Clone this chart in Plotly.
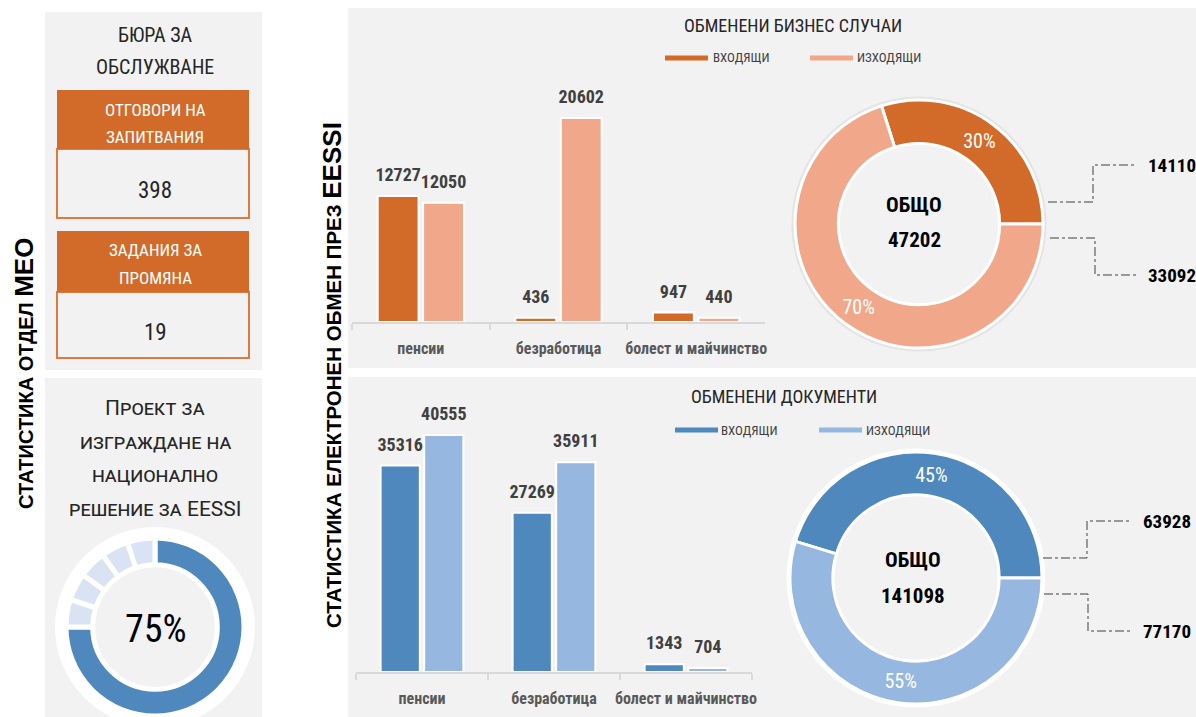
import plotly.graph_objects as go

W, H = 1196, 717
def X(x): return x / W
def Y(y): return 1 - y / H

# ---------------- data ----------------
categories = ["пенсии", "безработица", "болест и майчинство"]
series_names = ["ВХОДЯЩИ", "ИЗХОДЯЩИ"]
cases_in = [12727, 436, 947]
cases_out = [12050, 20602, 440]
docs_in = [35316, 27269, 1343]
docs_out = [40555, 35911, 704]
office_labels = [["ОТГОВОРИ НА", "ЗАПИТВАНИЯ"], ["ЗАДАНИЯ ЗА", "ПРОМЯНА"]]
office_values = [398, 19]
project_progress = [75, 5, 5, 5, 5, 5]
project_lines = ["Проект за", "изграждане на", "национално", "решение за EESSI"]

# ---------------- style ----------------
FONT = "Roboto Condensed, Roboto, sans-serif"
FONT_WIDE = "Liberation Sans, Arial, sans-serif"
ORANGE = "#D26B2A"
ORANGE_L = "#F0A78A"
BLUE = "#4E88BC"
BLUE_L = "#96B7DF"
SEG_L = "#DAE3F3"
PANEL = "#F2F2F2"
BOX_LINE = "#DE7B3C"
DARK = "#262626"
GRAY = "#595959"

fig = go.Figure()

# ---------------- bar charts ----------------
def bars(y, name, color, xa, ya, grp):
    fig.add_trace(go.Bar(x=categories, y=y, name=name, marker=dict(color=color, line=dict(color="white", width=2)),
                         offsetgroup=grp, xaxis=xa, yaxis=ya, showlegend=False, hoverinfo="x+y"))

def labels(y, xa, ya, grp):
    fig.add_trace(go.Scatter(x=categories, y=y, mode="markers+text", text=[f"{v}" for v in y],
                             textposition="top center", offsetgroup=grp, cliponaxis=False,
                             marker=dict(size=15, color="rgba(0,0,0,0)"),
                             textfont=dict(family=FONT, size=18, color="#404040", weight="bold"),
                             xaxis=xa, yaxis=ya, showlegend=False, hoverinfo="skip"))

bars(cases_in, series_names[0], ORANGE, "x", "y", "in")
bars(cases_out, series_names[1], ORANGE_L, "x", "y", "out")
bars(docs_in, series_names[0], BLUE, "x2", "y2", "in")
bars(docs_out, series_names[1], BLUE_L, "x2", "y2", "out")
labels(cases_in, "x", "y", "in")
labels(cases_out, "x", "y", "out")
labels(docs_in, "x2", "y2", "in")
labels(docs_out, "x2", "y2", "out")

# ---------------- donuts ----------------
cases_tot = [sum(cases_in), sum(cases_out)]
docs_tot = [sum(docs_in), sum(docs_out)]

def donut(values, colors, cx, cy, r, hole, rotation, textsize=20, text=True, line_w=3):
    return go.Pie(values=values, labels=[f"s{i}" for i in range(len(values))], sort=False, direction="clockwise",
                  rotation=rotation, hole=hole,
                  marker=dict(colors=colors, line=dict(color="white", width=line_w)),
                  textinfo="percent" if text else "none", texttemplate="%{percent:.0%}" if text else None,
                  textposition="inside", insidetextorientation="horizontal",
                  textfont=dict(family=FONT, size=textsize, color="white"),
                  domain=dict(x=[max(0, X(cx - r)), min(1, X(cx + r))], y=[max(0, Y(cy + r)), min(1, Y(cy - r))]),
                  showlegend=False, hoverinfo="value+percent")

fig.add_trace(donut(cases_tot, [ORANGE, ORANGE_L], 919, 224, 124, 0.65, 90 - 360 * cases_tot[0] / sum(cases_tot)))
fig.add_trace(donut(docs_tot, [BLUE, BLUE_L], 916, 578, 126, 0.66, 90 - 360 * docs_tot[0] / sum(docs_tot)))
fig.add_trace(donut(project_progress, [BLUE] + [SEG_L] * 5, 155, 627, 89, 0.70, 0, text=False, line_w=5))

# ---------------- shapes ----------------
shapes = []
def rect(x0, y0, x1, y1, fill, line=None, lw=0):
    shapes.append(dict(type="rect", xref="paper", yref="paper", x0=X(x0), x1=X(x1), y0=Y(y1), y1=Y(y0),
                       fillcolor=fill, line=dict(color=line or fill, width=lw), layer="below"))

rect(45, 12, 262, 370, PANEL)
rect(45, 378, 262, 717, PANEL)
rect(348, 8, 1196, 368, PANEL)
rect(348, 377, 1196, 717, PANEL)
rect(57, 149, 249, 218, PANEL, BOX_LINE, 2)
rect(57, 90, 249, 149, ORANGE)
rect(57, 292, 249, 358, PANEL, BOX_LINE, 2)
rect(57, 231, 249, 292, ORANGE)

def circle(cx, cy, r, color, width):
    shapes.append(dict(type="circle", xref="paper", yref="paper", x0=X(cx - r), x1=X(cx + r), y0=Y(cy + r), y1=Y(cy - r),
                       line=dict(color=color, width=width), fillcolor="rgba(0,0,0,0)", layer="below"))

circle(155, 627, 95, "white", 10)
circle(919, 224, 126, "#E4E4E4", 3)
circle(916, 578, 128, "white", 3)

def hline(x0, x1, y, color):
    shapes.append(dict(type="line", xref="paper", yref="paper", x0=X(x0), x1=X(x1), y0=Y(y), y1=Y(y),
                       line=dict(color=color, width=5)))

def path(pts):
    d = "M " + " L ".join(f"{X(a):.5f},{Y(b):.5f}" for a, b in pts)
    shapes.append(dict(type="path", xref="paper", yref="paper", path=d,
                       line=dict(color="#404040", width=1, dash="dashdot")))

path([(1048, 202), (1093, 202), (1093, 165), (1137, 165)])
path([(1050, 238), (1095, 238), (1095, 275), (1137, 275)])
path([(1043, 558), (1087, 558), (1087, 521), (1132, 521)])
path([(1044, 594), (1088, 594), (1088, 631), (1132, 631)])

# ---------------- annotations ----------------
ann = []
def txt(x, y, s, size, color=DARK, bold=False, anchor="center", angle=0, variant="normal", family=FONT):
    ann.append(dict(xref="paper", yref="paper", x=X(x), y=Y(y), text=s, showarrow=False, xanchor=anchor, yanchor="middle",
                    textangle=angle,
                    font=dict(family=family, size=size, color=color, weight="bold" if bold else "normal", variant=variant)))

for (xl, yl, col, name, tx) in [(665, 58, ORANGE, series_names[0], 711), (810, 58, ORANGE_L, series_names[1], 855),
                                (675, 430, BLUE, series_names[0], 719), (819, 430, BLUE_L, series_names[1], 864)]:
    hline(xl, xl + 43, yl, col)
    txt(tx, yl, name, 13, "#404040", anchor="left")

txt(793, 25, "ОБМЕНЕНИ БИЗНЕС СЛУЧАИ", 18)
txt(784, 396, "ОБМЕНЕНИ ДОКУМЕНТИ", 18)

txt(914, 205, "ОБЩО", 21, "black", True)
txt(914, 240, f"{sum(cases_tot)}", 21, "black", True)
txt(913, 560, "ОБЩО", 21, "black", True)
txt(913, 596, f"{sum(docs_tot)}", 21, "black", True)

txt(1146, 165, f"{cases_tot[0]}", 19, "black", True, anchor="left")
txt(1146, 275, f"{cases_tot[1]}", 19, "black", True, anchor="left")
txt(1141, 521, f"{docs_tot[0]}", 19, "black", True, anchor="left")
txt(1141, 631, f"{docs_tot[1]}", 19, "black", True, anchor="left")

txt(155, 35, "БЮРА ЗА", 20)
txt(155, 67, "ОБСЛУЖВАНЕ", 20)
txt(155, 110, office_labels[0][0], 17, "white")
txt(155, 137, office_labels[0][1], 17, "white")
txt(155, 190, f"{office_values[0]}", 23, DARK)
txt(155, 250, office_labels[1][0], 17, "white")
txt(155, 278, office_labels[1][1], 17, "white")
txt(155, 333, f"{office_values[1]}", 23, DARK)

for i, line in enumerate(project_lines):
    txt(155, 408 + i * 33.5, line, 21, DARK, variant="small-caps", family="Roboto, sans-serif")
txt(156, 629, f"{project_progress[0]}%", 38, "black")

txt(24, 374, "СТАТИСТИКА ОТДЕЛ <span style='font-size:26px'>МЕО</span>", 20, "black", True, angle=-90, family=FONT_WIDE)
txt(332, 375, "СТАТИСТИКА ЕЛЕКТРОНЕН ОБМЕН ПРЕЗ <span style='font-size:26px'>EESSI</span>", 20.5, "black", True,
    angle=-90, family=FONT_WIDE)

# ---------------- layout ----------------
axis_x = dict(type="category", showline=True, linecolor="#D9D9D9", linewidth=1.5, ticks="outside", tickson="boundaries",
              ticklen=6, tickcolor="#D9D9D9", tickwidth=1.5, showgrid=False, zeroline=False, ticklabelstandoff=11,
              tickangle=0, automargin=False,
              tickfont=dict(family=FONT, size=16, color=GRAY, weight="bold"), fixedrange=True)
axis_y = dict(visible=False, showgrid=False, zeroline=False, fixedrange=True, automargin=False)

fig.update_layout(
    width=W, height=H, margin=dict(l=0, r=0, t=0, b=0, autoexpand=False),
    paper_bgcolor="white", plot_bgcolor="rgba(0,0,0,0)",
    barmode="group", bargap=0.34, bargroupgap=0.1, scattermode="group", scattergap=0.34,
    xaxis=dict(axis_x, domain=[X(352), X(765)], anchor="y"),
    yaxis=dict(axis_y, domain=[Y(322), Y(100)], range=[0, 22420], anchor="x"),
    xaxis2=dict(axis_x, domain=[X(356), X(752)], anchor="y2"),
    yaxis2=dict(axis_y, domain=[Y(672), Y(420)], range=[0, 43120], anchor="x2"),
    shapes=shapes, annotations=ann, showlegend=False,
    font=dict(family=FONT),
)

fig.write_html("out.html", config={"displayModeBar": False}, post_script="document.body.style.margin='0';")
